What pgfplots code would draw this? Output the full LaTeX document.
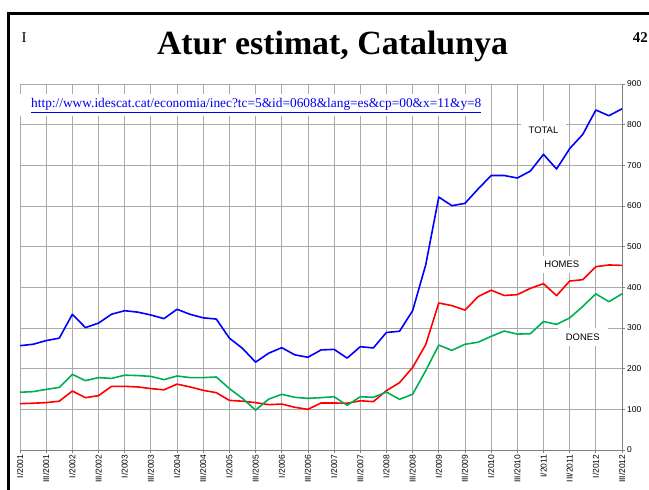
\documentclass[border=0pt]{standalone}
\usepackage{pgfplots}
\pgfplotsset{compat=1.18}
\usepackage{fontspec}
\setmainfont{Liberation Serif}
\newfontfamily\arial{Liberation Sans}
\definecolor{lblue}{RGB}{0,0,255}
\definecolor{lred}{RGB}{255,0,0}
\definecolor{lgreen}{RGB}{0,176,80}
\definecolor{gridc}{RGB}{170,170,170}
\definecolor{axisc}{RGB}{128,128,128}
\definecolor{urlc}{RGB}{0,0,238}
\begin{document}
\begin{tikzpicture}
\path[use as bounding box] (0,0) rectangle (649bp,490bp);
% slide frame
\draw[black,line width=2.5bp] (8.5bp,0) -- (8.5bp,476.5bp) -- (649bp,476.5bp);
% title and corner marks
\node[anchor=base,inner sep=0pt,font=\bfseries\fontsize{34}{40}\selectfont] at (332.5bp,435.7bp) {Atur estimat, Catalunya};
\node[anchor=center,inner sep=0pt,font=\fontsize{15}{18}\selectfont] at (24bp,452.5bp) {I};
\node[anchor=east,inner sep=0pt,font=\bfseries\fontsize{15}{18}\selectfont] at (648bp,452bp) {42};
\begin{axis}[
  at={(20bp,40bp)}, anchor=south west,
  scale only axis, width=602bp, height=366bp,
  xmin=0, xmax=46, ymin=0, ymax=900,
  xtick={0,2,...,46},
  xticklabels={I/2001,III/2001,I/2002,III/2002,I/2003,III/2003,I/2004,III/2004,I/2005,III/2005,I/2006,III/2006,I/2007,III/2007,I/2008,III/2008,I/2009,III/2009,I/2010,III/2010,I/2011,III/2011,I/2012,III/2012},
  ytick={0,100,...,900},
  axis x line*=bottom, axis y line*=right,
  axis line style={axisc, line width=0.8bp},
  grid=major, major grid style={gridc, line width=0.8bp},
  tick align=outside, major tick length=3bp,
  tick style={axisc, line width=0.8bp},
  /pgf/number format/assume math mode=true,
  xticklabel style={font=\arial\fontsize{8.5}{10}\selectfont, rotate=90, anchor=east, inner sep=1.5bp},
  yticklabel style={font=\arial\fontsize{8.5}{10}\selectfont, anchor=west, inner sep=2bp},
  clip=false,
]
\addplot[lblue, line width=1.6bp, line join=round] coordinates {
(0,256.5)(1,260)(2,269)(3,275)(4,333.6)(5,301)(6,312)(7,334)(8,342.5)(9,339)(10,332)(11,323)(12,346)(13,333.6)(14,325)(15,322)(16,275)(17,250)(18,216)(19,238)(20,251.6)(21,234)(22,228)(23,246)(24,247.5)(25,226)(26,254)(27,251)(28,289)(29,292)(30,342.5)(31,455)(32,622)(33,600.8)(34,606.5)(35,641.7)(36,675)(37,675)(38,668.8)(39,686)(40,727)(41,691)(42,741)(43,776)(44,836)(45,822)(46,839)};
\addplot[lred, line width=1.6bp, line join=round] coordinates {
(0,114)(1,115)(2,116.5)(3,120)(4,145)(5,128.7)(6,133.6)(7,156.6)(8,156.6)(9,155)(10,151)(11,148)(12,162)(13,155)(14,146.7)(15,141)(16,122)(17,120)(18,116.5)(19,111.5)(20,113)(21,105)(22,100)(23,115.6)(24,115.6)(25,115)(26,121)(27,119)(28,146)(29,165.5)(30,203)(31,259)(32,361.5)(33,355)(34,344)(35,377)(36,393)(37,380)(38,382)(39,397.5)(40,409)(41,379.5)(42,415.5)(43,418.8)(44,450.8)(45,455)(46,454)};
\addplot[lgreen, line width=1.6bp, line join=round] coordinates {
(0,142)(1,143.5)(2,149)(3,154)(4,186)(5,170.5)(6,178)(7,176)(8,184)(9,183)(10,181)(11,173)(12,182)(13,178)(14,178)(15,179.5)(16,151)(17,127)(18,98)(19,125)(20,137)(21,129.5)(22,127)(23,128.7)(24,131)(25,110)(26,131)(27,129.5)(28,142.6)(29,124.6)(30,137)(31,195)(32,258)(33,245)(34,260)(35,265)(36,279.5)(37,292.6)(38,285)(39,286)(40,316)(41,309)(42,324.6)(43,353)(44,384)(45,364.7)(46,384)};
\node[fill=white, inner xsep=8bp, inner ysep=6bp, font=\arial\fontsize{9.5}{11}\selectfont] at (axis cs:40,787) {TOTAL};
\node[fill=white, inner xsep=8bp, inner ysep=5bp, font=\arial\fontsize{9.5}{11}\selectfont] at (axis cs:41.4,457) {HOMES};
\node[fill=white, inner xsep=8bp, inner ysep=6bp, font=\arial\fontsize{9.5}{11}\selectfont] at (axis cs:43.0,278) {DONES};
\end{axis}
% URL box
\fill[white] (20.4bp,374bp) rectangle (485bp,396bp);
\node[anchor=base west, inner sep=0pt, text=urlc, font=\fontsize{13.4}{15}\selectfont] at (31bp,382bp) {\underline{http://www.idescat.cat/economia/inec?tc=5\&id=0608\&lang=es\&cp=00\&x=11\&y=8}};
\end{tikzpicture}
\end{document}
